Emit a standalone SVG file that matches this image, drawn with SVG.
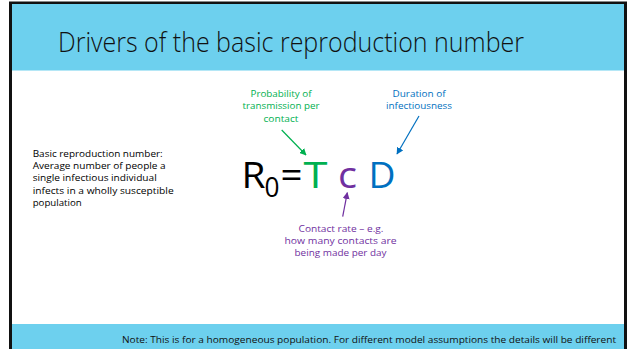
<svg xmlns="http://www.w3.org/2000/svg" width="629" height="349" viewBox="0 0 629 349">
<style>
.t{font-family:"Open Sans","Noto Sans","Liberation Sans",sans-serif;}
.s{font-size:9.5px;}
.g{fill:#00B050;}
.b{fill:#0070C0;}
.p{fill:#7030A0;}
.k{fill:#000;}
</style>
<defs>
<marker id="ag" viewBox="0 0 10 10" refX="9" refY="5" markerWidth="7" markerHeight="7" markerUnits="userSpaceOnUse" orient="auto"><path d="M0,0 L10,5 L0,10 z" fill="#00B050"/></marker>
<marker id="ab" viewBox="0 0 10 10" refX="9" refY="5" markerWidth="7" markerHeight="7" markerUnits="userSpaceOnUse" orient="auto"><path d="M0,0 L10,5 L0,10 z" fill="#0070C0"/></marker>
<marker id="ap" viewBox="0 0 10 10" refX="9" refY="5" markerWidth="7" markerHeight="7" markerUnits="userSpaceOnUse" orient="auto"><path d="M0,0 L10,5 L0,10 z" fill="#7030A0"/></marker>
</defs>
<rect x="0" y="0" width="629" height="349" fill="#fff"/>
<rect x="9" y="1.5" width="618" height="348" fill="#111"/>
<rect x="12" y="4" width="612" height="345" fill="#fff"/>
<rect x="12" y="4" width="612" height="66.5" fill="#6DD0EE"/>
<rect x="12" y="324" width="612" height="25" fill="#6DD0EE"/>
<g id="title"><text class="t" x="58" y="52" font-size="27" font-weight="300" textLength="466" lengthAdjust="spacingAndGlyphs" fill="#111">Drivers of the basic reproduction number</text></g>
<g id="definition" class="t s k">
<text x="32.7" y="156.5" textLength="130" lengthAdjust="spacingAndGlyphs">Basic reproduction number:</text>
<text x="32.7" y="169" textLength="133" lengthAdjust="spacingAndGlyphs">Average number of people a</text>
<text x="32.7" y="181.3" textLength="124" lengthAdjust="spacingAndGlyphs">single infectious individual</text>
<text x="32.7" y="193.6" textLength="141" lengthAdjust="spacingAndGlyphs">infects in a  wholly susceptible</text>
<text x="32.7" y="206" textLength="49" lengthAdjust="spacingAndGlyphs">population</text>
</g>
<g id="formula" class="t">
<text x="241.5" y="188.3" font-size="37" class="k" textLength="24" lengthAdjust="spacingAndGlyphs">R</text>
<text x="264.5" y="196.7" font-size="28" class="k" textLength="15" lengthAdjust="spacingAndGlyphs">0</text>
<text x="280.5" y="188.3" font-size="37" class="k" textLength="22" lengthAdjust="spacingAndGlyphs">=</text>
<text x="303.5" y="188.3" font-size="37" class="g" textLength="24" lengthAdjust="spacingAndGlyphs">T</text>
<text x="338" y="188.3" font-size="37" class="p" textLength="19" lengthAdjust="spacingAndGlyphs">c</text>
<text x="368.5" y="188.3" font-size="37" class="b" textLength="27" lengthAdjust="spacingAndGlyphs">D</text>
</g>
<g id="transmission" class="t s g" text-anchor="middle">
<text x="281" y="97" textLength="61" lengthAdjust="spacingAndGlyphs">Probability of</text>
<text x="281" y="109.3" textLength="77" lengthAdjust="spacingAndGlyphs">transmission per</text>
<text x="281" y="121.6" textLength="35" lengthAdjust="spacingAndGlyphs">contact</text>
</g>
<g id="duration" class="t s b" text-anchor="middle">
<text x="419" y="97" textLength="53" lengthAdjust="spacingAndGlyphs">Duration of</text>
<text x="419" y="109.3" textLength="66" lengthAdjust="spacingAndGlyphs">infectiousness</text>
</g>
<g id="contactrate" class="t s p" text-anchor="middle">
<text x="341" y="231.5" textLength="85" lengthAdjust="spacingAndGlyphs">Contact rate – e.g.</text>
<text x="340.5" y="243.9" textLength="112" lengthAdjust="spacingAndGlyphs">how many contacts are</text>
<text x="340.5" y="256.2" textLength="92" lengthAdjust="spacingAndGlyphs">being made per day</text>
</g>
<g id="connectors" fill="none" stroke-width="1.2">
<line x1="281.7" y1="130" x2="306" y2="155" stroke="#00B050" marker-end="url(#ag)"/>
<line x1="419" y1="116" x2="397" y2="154" stroke="#0070C0" marker-end="url(#ab)"/>
<line x1="342.7" y1="216.7" x2="347.3" y2="192.7" stroke="#7030A0" marker-end="url(#ap)"/>
</g>
<g id="note"><text class="t" x="616" y="343" font-size="9.5" text-anchor="end" textLength="494" lengthAdjust="spacingAndGlyphs" fill="#111">Note: This is for a homogeneous population. For different model assumptions the details will be different</text></g>
</svg>
